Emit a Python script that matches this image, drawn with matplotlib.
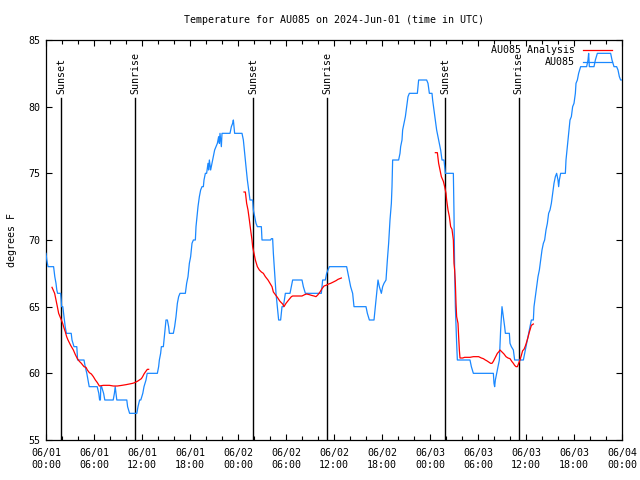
import matplotlib
matplotlib.use("Agg")
import matplotlib.pyplot as plt
import matplotlib.dates as mdates
import pandas as pd
import numpy as np

# ---------------- data ----------------
start = pd.Timestamp("2024-06-01 00:00")

obs_hours = [0.0, 0.1, 0.25, 0.95, 1.0, 1.1, 1.25, 1.35, 1.45, 1.83, 1.9, 1.95, 2.1, 2.25, 2.4, 2.55,
             3.15, 3.25, 3.5, 3.85, 3.95, 4.75, 4.9, 5.1, 5.25, 5.4, 6.4, 6.6, 6.7, 6.8, 6.85, 6.95,
             7.2, 7.35, 8.4, 8.55, 8.65, 8.75, 8.85, 10.1, 10.2, 10.45, 11.35, 11.5, 11.7, 11.85,
             12.1, 12.25, 12.5, 12.65,
             13.92, 14.08, 14.17, 14.33, 14.42, 14.67, 14.75, 14.92, 15.0, 15.17, 15.33, 15.42, 15.92,
             16.08, 16.25, 16.42, 16.58, 16.75, 17.42, 17.58, 17.75, 17.92, 18.08, 18.25, 18.42, 18.67,
             18.75, 18.83, 19.0, 19.17, 19.33, 19.5, 19.67, 19.75, 19.92, 20.08, 20.25, 20.33, 20.42,
             20.58, 20.75, 20.92, 21.08, 21.25, 21.42, 21.58, 21.67, 21.75, 21.92, 22.0, 23.0, 23.17,
             23.33, 23.42, 23.5, 23.58, 24.5, 24.67, 24.83, 25.0, 25.17, 25.33, 25.5, 25.83, 25.92,
             26.08, 26.25, 26.42, 26.92, 27.0, 28.08, 28.17, 28.33, 28.42, 28.58, 28.75, 28.92, 29.08,
             29.33, 29.5, 29.67, 29.92, 30.5, 30.67, 30.83, 32.0, 32.17, 32.42, 34.42, 34.5, 34.58,
             34.92, 35.08, 35.42, 37.58, 37.75, 37.92, 38.08, 38.33, 38.42, 38.5, 40.0, 40.17, 40.42,
             41.0, 41.17, 41.33, 41.5, 41.67, 41.92, 42.08, 42.25, 42.5, 42.58, 42.67, 42.83, 43.0,
             43.17, 43.25, 43.33, 44.08, 44.25, 44.33, 44.5, 44.58, 44.75, 44.92, 45.08, 45.25, 45.42,
             46.42, 46.5, 46.58, 47.58, 47.75, 47.92, 48.25, 48.33, 48.5, 48.67, 48.83, 49.0, 49.17,
             49.33, 49.5, 49.75, 49.83, 49.92, 50.0, 50.92, 51.0, 51.08, 51.17, 51.33, 51.42, 53.0,
             53.17, 53.42, 55.92, 56.0, 56.08, 56.17, 56.33, 56.5, 56.67, 56.83, 57.0, 57.17, 57.33,
             57.42, 57.92, 58.0, 58.17, 58.42, 58.58, 59.67, 59.83, 60.0, 60.17, 60.33, 60.5, 60.67,
             60.92, 61.0, 61.17, 61.33, 61.5, 61.67, 61.83, 62.0, 62.17, 62.33, 62.5, 62.67, 62.83,
             63.0, 63.17, 63.33, 63.5, 63.67, 63.83, 64.0, 64.08, 64.17, 64.33, 64.92, 65.0, 65.08,
             65.25, 65.42, 65.5, 65.67, 65.83, 66.0, 66.17, 66.25, 66.42, 66.58, 66.83, 67.58, 67.75,
             67.83, 67.92, 68.5, 68.67, 68.92, 70.58, 70.75, 71.0, 71.33, 71.5, 71.67, 71.83, 72.0]
obs_temps = [69.0, 68.5, 68.0, 68.0, 67.75, 67.25, 66.75, 66.25, 66.0, 66.0, 65.5, 65.0, 65.0, 64.25, 63.5, 63.0,
             63.0, 62.5, 62.0, 62.0, 61.0, 61.0, 60.5, 60.0, 59.5, 59.0, 59.0, 58.5, 58.0, 58.0, 59.0, 59.0,
             58.5, 58.0, 58.0, 58.5, 59.0, 58.5, 58.0, 58.0, 57.5, 57.0, 57.0, 57.5, 58.0, 58.0,
             58.5, 59.0, 59.5, 60.0,
             60.0, 60.5, 61.0, 61.5, 62.0, 62.0, 62.5, 63.5, 64.0, 64.0, 63.5, 63.0, 63.0,
             63.5, 64.25, 65.25, 65.75, 66.0, 66.0, 66.75, 67.25, 68.25, 68.75, 69.75, 70.0, 70.0,
             71.0, 71.5, 72.5, 73.25, 73.75, 74.0, 74.0, 74.5, 75.0, 75.0, 75.75, 75.25, 76.0,
             75.25, 75.75, 76.25, 76.75, 77.0, 77.25, 77.75, 77.25, 78.0, 77.0, 78.0, 78.0, 78.5,
             78.75, 79.0, 78.5, 78.0, 78.0, 77.5, 76.5, 75.5, 74.5, 73.75, 73.0, 73.0, 72.25,
             71.75, 71.25, 71.0, 71.0, 70.0, 70.0, 70.1, 70.1, 69.0, 67.5, 66.0, 65.0, 64.0,
             64.0, 65.0, 65.0, 66.0, 66.0, 66.5, 67.0, 67.0, 66.5, 66.0, 66.0, 66.5, 67.0,
             67.0, 67.5, 68.0, 68.0, 67.5, 67.0, 66.5, 66.0, 65.5, 65.0, 65.0, 64.5, 64.0,
             64.0, 65.0, 66.0, 67.0, 66.5, 66.0, 66.5, 66.75, 67.0, 67.75, 68.5, 69.75, 71.5,
             72.75, 74.0, 76.0, 76.0, 76.5, 77.0, 77.5, 78.25, 78.75, 79.25, 80.0, 80.75, 81.0,
             81.0, 81.5, 82.0, 82.0, 81.75, 81.0, 81.0, 80.5, 79.75, 79.0, 78.25, 77.75, 77.25,
             76.75, 76.0, 76.0, 75.5, 75.0, 75.0, 75.0, 72.0, 67.75, 65.0, 62.25, 61.0, 61.0,
             60.5, 60.0, 60.0, 59.25, 59.0, 59.5, 60.0, 60.5, 61.0, 63.25, 65.0, 64.25, 63.5,
             63.0, 63.0, 62.25, 62.0, 61.75, 61.0, 61.0, 61.5, 62.0, 62.5, 63.0, 63.5, 64.0,
             64.0, 65.0, 65.75, 66.5, 67.25, 67.75, 68.5, 69.25, 69.75, 70.0, 70.75, 71.25, 72.0,
             72.25, 72.75, 73.5, 74.25, 74.75, 75.0, 74.5, 74.0, 74.5, 75.0, 75.0, 76.0, 76.5,
             77.5, 78.5, 79.0, 79.25, 80.0, 80.25, 81.0, 81.75, 82.0, 82.5, 83.0, 83.0, 83.5,
             84.0, 83.0, 83.0, 83.5, 84.0, 84.0, 83.5, 83.0, 83.0, 82.75, 82.25, 82.0, 82.0]

ana1_hours = [0.75, 1.08, 1.25, 1.42, 1.58, 1.75, 1.92, 2.08, 2.25, 2.42, 2.58, 2.75, 3.08, 3.42, 3.67,
              3.92, 4.17, 4.42, 4.75, 5.0, 5.17, 5.42, 5.67, 5.92, 6.17, 6.42, 6.67, 7.17, 7.92, 8.42,
              8.92, 9.5, 10.0, 10.42, 10.83, 11.08, 11.42, 11.67, 11.92, 12.08, 12.25, 12.42, 12.67, 12.83]
ana1_temps = [66.45, 66.0, 65.5, 65.0, 64.5, 64.25, 64.0, 63.75, 63.4, 63.1, 62.75, 62.5, 62.1, 61.75, 61.4,
              61.1, 60.9, 60.75, 60.5, 60.45, 60.25, 60.05, 59.95, 59.75, 59.5, 59.3, 59.05, 59.1, 59.1, 59.05,
              59.05, 59.1, 59.15, 59.2, 59.25, 59.3, 59.4, 59.5, 59.6, 59.75, 59.95, 60.1, 60.3, 60.3]

ana2_hours = [24.75, 24.92, 25.08, 25.25, 25.42, 25.58, 25.75, 25.83, 26.0, 26.17, 26.42, 26.67, 26.92,
              27.17, 27.42, 27.75, 28.0, 28.25, 28.42, 28.67, 28.92, 29.25, 29.58, 29.75, 30.0, 30.33,
              30.67, 30.83, 32.0, 32.33, 32.58, 32.92, 33.17, 33.5, 33.75, 34.0, 34.25, 34.5, 34.75,
              35.0, 35.33, 35.58, 35.92, 36.25, 36.5, 36.92]
ana2_temps = [73.6, 73.6, 72.75, 72.25, 71.5, 70.75, 70.0, 69.5, 69.0, 68.5, 68.0, 67.75, 67.6,
              67.5, 67.25, 67.0, 66.75, 66.5, 66.1, 65.9, 65.7, 65.4, 65.2, 65.0, 65.25, 65.5,
              65.75, 65.8, 65.8, 65.9, 65.95, 65.9, 65.85, 65.8, 65.75, 65.9, 66.1, 66.35, 66.55,
              66.6, 66.7, 66.75, 66.85, 66.95, 67.05, 67.15]

ana3_hours = [48.67, 48.92, 49.08, 49.25, 49.42, 49.67, 49.83, 50.0, 50.08, 50.25, 50.42, 50.58, 50.75,
              50.92, 51.0, 51.08, 51.17, 51.25, 51.33, 51.5, 51.58, 51.67, 51.75, 52.08, 52.33, 53.0,
              53.42, 54.08, 54.42, 54.67, 54.92, 55.08, 55.33, 55.58, 55.75, 55.92, 56.17, 56.42, 56.58,
              56.75, 57.0, 57.25, 57.5, 57.75, 58.0, 58.25, 58.42, 58.58, 58.75, 58.92, 59.08, 59.25,
              59.42, 59.58, 59.75, 59.92, 60.08, 60.25, 60.42, 60.5, 60.67, 60.92]
ana3_temps = [76.55, 76.55, 75.75, 75.25, 74.75, 74.4, 74.0, 73.5, 73.0, 72.25, 71.75, 71.0, 70.8,
              70.0, 68.25, 67.75, 66.75, 65.25, 64.25, 63.75, 62.75, 61.75, 61.15, 61.15, 61.2, 61.2,
              61.25, 61.25, 61.15, 61.1, 61.0, 60.95, 60.85, 60.75, 60.75, 60.9, 61.2, 61.5, 61.6,
              61.75, 61.6, 61.45, 61.25, 61.15, 61.1, 60.875, 60.75, 60.6, 60.5, 60.5, 60.75, 61.0,
              61.35, 61.7, 61.8, 62.05, 62.35, 62.7, 63.1, 63.25, 63.6, 63.7]

sun_hours = [1.9, 11.15, 25.9, 35.15, 49.9, 59.1]
sun_labels = ["Sunset", "Sunrise", "Sunset", "Sunrise", "Sunset", "Sunrise"]

title = "Temperature for AU085 on 2024-Jun-01 (time in UTC)"
ylabel = "degrees F"
series_names = ["AU085 Analysis", "AU085"]

# ---------------- plotting ----------------
def to_time(hours):
    return start + pd.to_timedelta(np.asarray(hours), unit="h")

FONT = "DejaVu Sans Mono"
FS = 7.2
plt.rcParams["font.family"] = FONT
plt.rcParams["font.size"] = FS

fig = plt.figure(figsize=(6.4, 4.8), dpi=100)
ax = fig.add_axes([46 / 640, 40 / 480, 576 / 640, 400 / 480])

blue = "#1a88ff"
red = "#ff0000"

ax.plot(to_time(obs_hours), obs_temps, color=blue, lw=0.9, zorder=3)
for hh, tt in [(ana1_hours, ana1_temps), (ana2_hours, ana2_temps), (ana3_hours, ana3_temps)]:
    ax.plot(to_time(hh), tt, color=red, lw=0.9, zorder=4)

for h, lab in zip(sun_hours, sun_labels):
    t = to_time([h])[0]
    ax.plot([t, t], [55, 80.65], color="black", lw=1.0, zorder=2)
    ax.text(t, 80.95, lab, rotation=90, ha="center", va="bottom", fontsize=FS, zorder=5)

ax.set_xlim(start, start + pd.Timedelta(hours=72))
ax.set_ylim(55, 85)
ax.set_yticks([55, 60, 65, 70, 75, 80, 85])
ax.xaxis.set_major_locator(mdates.HourLocator(byhour=[0, 6, 12, 18]))
ax.xaxis.set_minor_locator(mdates.HourLocator(byhour=range(0, 24, 2)))
ax.xaxis.set_major_formatter(mdates.DateFormatter("%m/%d\n%H:%M"))
ax.tick_params(axis="both", which="major", direction="in", length=4.5, width=0.8,
               top=True, right=True, labelsize=FS, pad=6, color="black")
ax.tick_params(axis="x", which="minor", direction="in", length=3, width=0.8, top=True)
ax.tick_params(axis="y", which="major", pad=4)
for s in ax.spines.values():
    s.set_linewidth(0.9)
    s.set_color("black")

ax.set_title(title, fontsize=FS, pad=12)
ax.set_ylabel(ylabel, fontsize=FS, labelpad=8)

# legend (drawn as in the reference: text right-aligned, sample to the right)
leg_rows = [(series_names[0], red, 50), (series_names[1], blue, 62)]
for name, col, ypix in leg_rows:
    yf = 1 - ypix / 480
    fig.text(575 / 640, yf, name, ha="right", va="center", fontsize=FS)
    fig.add_artist(plt.Line2D([583 / 640, 612 / 640], [yf, yf], color=col, lw=0.9,
                              transform=fig.transFigure))

fig.savefig("out.png", dpi=100)
